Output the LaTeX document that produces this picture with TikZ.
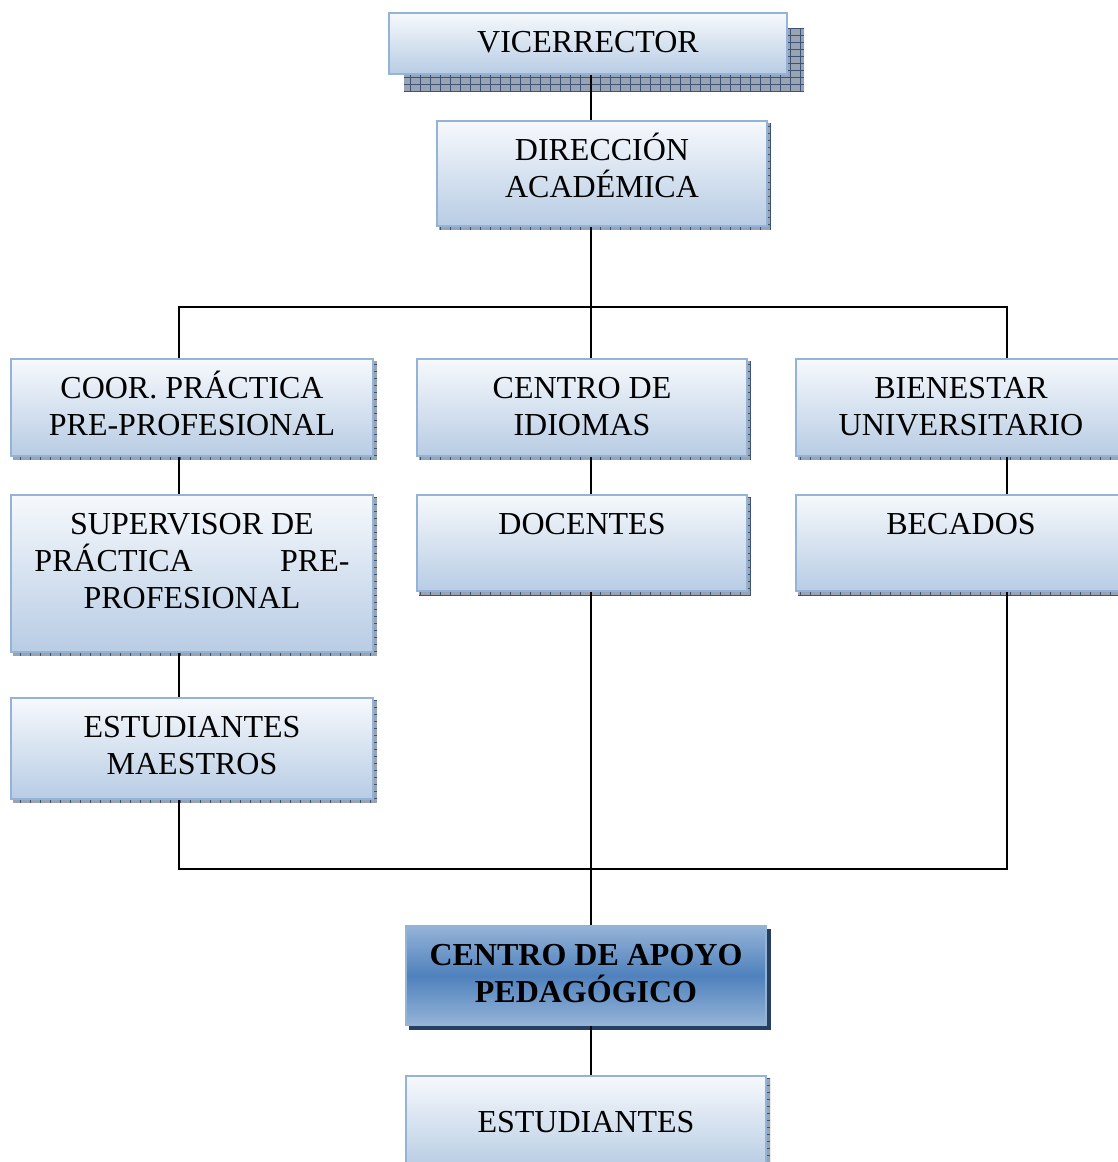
\documentclass[tikz,border=0pt]{standalone}
\usepackage{fontspec}
\setmainfont{Liberation Serif}
\usepackage{tikz}
\usepackage{xcolor}
\usetikzlibrary{backgrounds}

\definecolor{borde}{HTML}{95B3D7}
\definecolor{claro}{HTML}{F6F9FC}
\definecolor{celeste}{HTML}{B8CCE4}
\definecolor{azul}{HTML}{4F81BD}
\definecolor{gris}{HTML}{9AA3B1}
\definecolor{rejilla}{HTML}{3B5378}
\definecolor{marino}{HTML}{243F60}

\newcommand{\caja}[3]{\parbox[c][#2pt][t]{#1pt}{\centering\rule{0pt}{39.5pt}#3}}

\begin{document}
\begin{tikzpicture}[x=1pt,y=-1pt,line width=1.6pt]
			\useasboundingbox (0,0) rectangle (1118,1162);
			\tikzstyle{every node}=[inner sep=0pt,font=\fontsize{32}{37}\selectfont]
			\tikzstyle{cargo}=[anchor=north west,draw=borde,line width=2pt,top color=claro,bottom color=celeste]
			\tikzstyle{apoyo}=[anchor=north west,draw=borde,line width=2pt,top color=borde,bottom color=borde,middle color=azul,font=\fontsize{32}{37}\selectfont\bfseries]
			\tikzstyle{sombra}=[fill=gris,path picture={\draw[rejilla,line width=0.6pt,xstep=10pt,ystep=7pt] (path picture bounding box.south west) grid (path picture bounding box.north east);}]
			% cajas
			\node[cargo] (vice) at (388,12) {\caja{398}{61}{VICERRECTOR}};
			\node[cargo] (dir) at (436,120) {\caja{330}{105}{DIRECCIÓN\\ACADÉMICA}};
			\node[cargo] (coor) at (10,358) {\caja{362}{97}{COOR. PRÁCTICA\\PRE-PROFESIONAL}};
			\node[cargo] (idiomas) at (416,358) {\caja{330}{97}{CENTRO DE\\IDIOMAS}};
			\node[cargo] (bien) at (795,358) {\caja{330}{97}{BIENESTAR\\UNIVERSITARIO}};
			\node[cargo] (sup) at (10,494) {\caja{362}{157}{SUPERVISOR DE\\\makebox[315pt]{PRÁCTICA\hfill PRE-}\\PROFESIONAL}};
			\node[cargo] (docentes) at (416,494) {\caja{330}{96}{DOCENTES}};
			\node[cargo] (becados) at (795,494) {\caja{330}{96}{BECADOS}};
			\node[cargo] (maestros) at (10,697) {\caja{362}{101}{ESTUDIANTES\\MAESTROS}};
			\node[apoyo] (apoyo) at (405,925) {\caja{360}{99}{CENTRO DE APOYO\\PEDAGÓGICO}};
			\node[cargo,minimum width=360pt,minimum height=92pt] (est) at (405,1075) {ESTUDIANTES};
			% sombras
			\begin{scope}[on background layer]
				\fill[sombra] ([shift={(16,16)}]vice.north west) rectangle ([shift={(16,16)}]vice.south east);
				\fill[sombra] ([shift={(3,3)}]dir.north west) rectangle ([shift={(3,3)}]dir.south east);
				\fill[sombra] ([shift={(3,3)}]coor.north west) rectangle ([shift={(3,3)}]coor.south east);
				\fill[sombra] ([shift={(3,3)}]idiomas.north west) rectangle ([shift={(3,3)}]idiomas.south east);
				\fill[sombra] ([shift={(3,3)}]bien.north west) rectangle ([shift={(3,3)}]bien.south east);
				\fill[sombra] ([shift={(3,3)}]sup.north west) rectangle ([shift={(3,3)}]sup.south east);
				\fill[sombra] ([shift={(3,3)}]docentes.north west) rectangle ([shift={(3,3)}]docentes.south east);
				\fill[sombra] ([shift={(3,3)}]becados.north west) rectangle ([shift={(3,3)}]becados.south east);
				\fill[sombra] ([shift={(3,3)}]maestros.north west) rectangle ([shift={(3,3)}]maestros.south east);
				\fill[sombra] ([shift={(3,3)}]est.north west) rectangle ([shift={(3,3)}]est.south east);
				\fill[marino] ([shift={(4,4)}]apoyo.north west) rectangle ([shift={(4,4)}]apoyo.south east);
			\end{scope}
			% lineas
			\coordinate (eje) at (591,307);
			\coordinate (izq) at (179,307);
			\coordinate (der) at (1007,307);
			\coordinate (izqb) at (179,869);
			\coordinate (derb) at (1007,869);
			\draw (vice.south -| eje) -- (dir.north -| eje);
			\draw (dir.south -| eje) -- (idiomas.north -| eje);
			\draw (coor.north -| izq) -- (izq) -- (der) -- (bien.north -| der);
			\draw (coor.south -| izq) -- (sup.north -| izq);
			\draw (sup.south -| izq) -- (maestros.north -| izq);
			\draw (maestros.south -| izq) -- (izqb) -- (derb) -- (becados.south -| der);
			\draw (bien.south -| der) -- (becados.north -| der);
			\draw (idiomas.south -| eje) -- (docentes.north -| eje);
			\draw (docentes.south -| eje) -- (apoyo.north -| eje);
			\draw (apoyo.south -| eje) -- (est.north -| eje);
		\end{tikzpicture}
\end{document}
